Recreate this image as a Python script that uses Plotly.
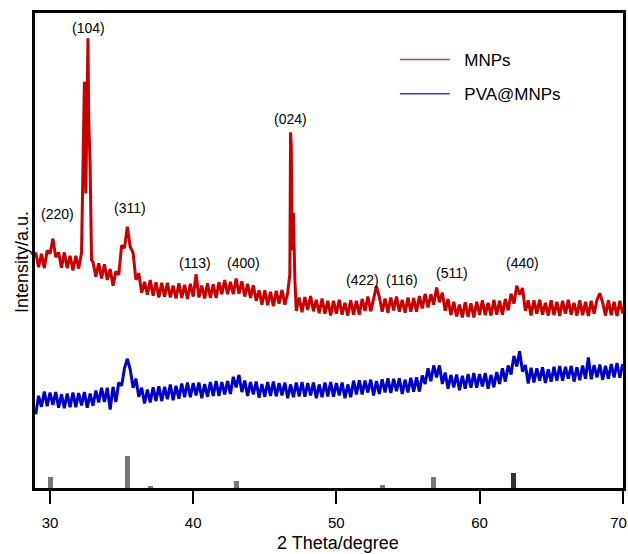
import numpy as np
import plotly.graph_objects as go

# 2-theta grid (degrees) used for both patterns
two_theta = np.round(np.arange(29.0, 70.001, 0.2), 1)

# MNPs intensity (a.u.)
mnps = [
    49.6, 46.5, 49.3, 46.3, 50.0, 49.3, 52.5, 48.6, 49.6, 46.4,
    49.6, 46.3, 48.9, 45.8, 48.9, 46.2, 49.5, 85.5, 90.0, 68.0,
    47.6, 44.5, 47.3, 44.1, 47.1, 43.8, 46.1, 42.6, 45.6, 44.9,
    51.1, 50.5, 55.0, 50.8, 49.5, 43.8, 45.2, 41.1, 43.4, 40.7,
    43.8, 40.5, 43.3, 40.1, 43.2, 40.3, 43.2, 40.1, 42.6, 39.9,
    43.1, 40.0, 42.8, 39.8, 43.0, 40.3, 45.0, 40.1, 42.6, 39.9,
    43.1, 40.0, 42.9, 40.0, 43.3, 40.8, 43.8, 40.8, 43.4, 40.8,
    44.1, 40.9, 43.5, 40.3, 43.0, 40.0, 42.7, 39.4, 41.6, 38.6,
    41.6, 38.5, 41.3, 38.3, 41.5, 38.8, 41.7, 38.6, 41.1, 74.9,
    57.9, 37.3, 40.1, 37.0, 40.2, 37.5, 40.4, 37.2, 39.6, 36.8,
    39.9, 36.7, 39.4, 36.3, 39.4, 36.7, 39.6, 36.5, 39.0, 36.3,
    39.5, 36.5, 39.4, 36.5, 39.8, 37.3, 40.3, 37.2, 39.7, 42.5,
    40.2, 37.1, 39.9, 36.9, 40.1, 37.4, 40.3, 37.1, 39.6, 36.9,
    40.1, 37.1, 40.0, 37.1, 40.4, 37.8, 40.9, 38.0, 40.8, 38.6,
    42.2, 39.1, 41.1, 37.3, 39.8, 36.4, 39.2, 36.1, 38.6, 35.9,
    39.1, 36.0, 38.9, 35.9, 39.2, 36.5, 39.5, 36.4, 39.0, 36.3,
    39.6, 36.5, 39.4, 36.5, 39.8, 37.4, 40.9, 38.8, 42.6, 40.7,
    42.1, 37.3, 39.5, 36.3, 39.5, 36.7, 39.6, 36.5, 39.0, 36.3,
    39.5, 36.4, 39.2, 36.2, 39.4, 36.7, 39.6, 36.5, 39.0, 36.3,
    39.5, 36.4, 39.2, 36.2, 39.4, 36.7, 39.6, 41.0, 39.0, 36.3,
    39.5, 36.4, 39.2, 36.2, 39.4, 36.7,
]
# extra readings across the two sharp reflections of MNPs
mnps_peak_theta = [32.5, 32.65, 32.7, 32.9, 46.75, 46.85, 46.92, 47.1]
mnps_peak_int = [62.0, 94.7, 78.0, 48.0, 45.0, 72.0, 50.0, 44.0]

# PVA@MNPs intensity (a.u.)
pva_mnps = [
    15.5, 19.4, 17.1, 20.3, 17.2, 20.1, 17.5, 20.2, 16.9, 19.7,
    16.8, 19.9, 17.0, 20.1, 17.0, 20.0, 17.4, 20.2, 16.9, 19.9,
    17.3, 20.5, 18.0, 21.1, 18.1, 21.1, 16.5, 21.3, 18.1, 22.2,
    21.5, 25.2, 27.2, 25.0, 21.1, 23.0, 19.2, 21.1, 17.8, 20.7,
    18.0, 21.2, 18.3, 21.4, 18.3, 21.3, 18.7, 21.8, 18.5, 21.5,
    18.8, 22.0, 19.1, 22.2, 19.1, 22.1, 19.5, 22.2, 18.9, 21.9,
    19.2, 22.3, 19.4, 22.5, 19.4, 22.3, 19.7, 22.5, 19.8, 23.4,
    21.2, 23.8, 20.2, 22.6, 19.4, 22.3, 19.7, 22.4, 19.0, 21.9,
    19.2, 22.3, 19.4, 22.4, 19.3, 22.1, 19.5, 22.2, 18.9, 21.8,
    19.1, 22.2, 19.3, 22.3, 19.2, 22.1, 19.5, 22.2, 18.9, 21.8,
    19.1, 22.2, 19.3, 22.3, 19.2, 22.1, 19.5, 22.2, 18.9, 21.8,
    19.1, 22.6, 19.7, 22.7, 19.7, 22.6, 20.1, 22.8, 19.5, 22.5,
    19.8, 22.9, 20.1, 23.1, 20.0, 23.0, 20.4, 23.1, 19.8, 22.8,
    20.1, 23.2, 20.3, 23.3, 20.3, 23.7, 21.9, 25.2, 22.5, 25.8,
    23.3, 25.8, 21.9, 24.3, 20.9, 23.8, 21.2, 23.9, 20.6, 23.6,
    20.9, 24.0, 21.1, 24.2, 21.1, 24.0, 21.4, 24.2, 20.9, 23.8,
    21.2, 24.4, 21.9, 25.2, 22.4, 25.8, 23.9, 27.8, 25.6, 28.8,
    24.5, 25.9, 22.0, 25.3, 22.2, 25.2, 22.6, 25.4, 22.1, 25.0,
    22.4, 25.5, 22.6, 25.7, 22.6, 25.5, 23.0, 25.7, 22.4, 25.4,
    22.7, 25.8, 23.0, 27.5, 22.9, 25.9, 23.3, 26.0, 22.8, 25.7,
    23.0, 26.1, 23.3, 26.3, 23.2, 26.1,
]

# reference (standard card) lines
ref_theta = [30.0, 35.4, 37.0, 43.0, 53.2, 56.8, 62.4]
ref_int = [2.3, 6.7, 0.4, 1.5, 0.6, 2.3, 3.2]

# x tick values and labels
x_ticks = [30, 40, 50, 60, 70]
x_tick_labels = ["30", "40", "50", "60", "70"]

# Miller index labels
hkl_labels = ["(220)", "(104)", "(311)", "(113)", "(400)", "(024)", "(422)", "(116)", "(511)", "(440)"]
hkl_theta = [30.5, 32.7, 35.6, 40.1, 43.5, 46.8, 51.8, 54.6, 58.1, 63.0]
hkl_int = [57.7, 96.8, 58.9, 47.4, 47.4, 77.7, 43.8, 43.8, 45.3, 47.4]

FONT = "Liberation Sans, Arial, sans-serif"
NB = "\u00a0"

# merge red grid with peak readings
rx = list(two_theta) + mnps_peak_theta
ry = list(mnps) + mnps_peak_int
order = np.argsort(rx, kind="stable")
rx = [rx[i] for i in order]
ry = [ry[i] for i in order]

fig = go.Figure()
fig.add_trace(go.Bar(
    x=ref_theta, y=ref_int, width=0.35,
    marker=dict(color=["#777777"] * 6 + ["#333333"], line=dict(width=0)),
    showlegend=False, hoverinfo="skip",
))
fig.add_trace(go.Scatter(x=rx, y=ry, mode="lines",
                         line=dict(color="#C80000", width=3), showlegend=False))
fig.add_trace(go.Scatter(x=list(two_theta), y=pva_mnps, mode="lines",
                         line=dict(color="#0000C8", width=3), showlegend=False))
# legend entries
fig.add_trace(go.Scatter(x=[None], y=[None], mode="lines", name=NB * 2 + "MNPs",
                         line=dict(color="#D03A3A", width=1.5), legendgroup="a"))
fig.add_trace(go.Scatter(x=[None], y=[None], mode="lines", name=NB * 2 + "PVA@MNPs",
                         line=dict(color="#3A3AD0", width=1.5), legendgroup="b"))

for lab, tx, ty in zip(hkl_labels, hkl_theta, hkl_int):
    fig.add_annotation(x=tx, y=ty, text=lab, showarrow=False,
                       font=dict(family=FONT, size=14, color="black"))

# axis titles placed as in the original
fig.add_annotation(xref="paper", yref="paper", x=-0.022, y=0.476, text="Intensity/a.u.",
                   textangle=-90, showarrow=False, xanchor="center", yanchor="middle",
                   font=dict(family=FONT, size=18, color="black"))
fig.add_annotation(xref="paper", yref="paper", x=0.515, y=-0.116, text="2 Theta/degree",
                   showarrow=False, xanchor="center", yanchor="middle",
                   font=dict(family=FONT, size=18, color="black"))

# last label padded so it stays inside the page, as in the original
tick_text = x_tick_labels[:-1] + [x_tick_labels[-1] + NB * 2]

fig.update_layout(
    width=628, height=554,
    margin=dict(l=35, r=5, t=13, b=66),
    paper_bgcolor="white", plot_bgcolor="white",
    font=dict(family=FONT, color="black"),
    bargap=0,
    legend=dict(x=0.612, y=0.939, xanchor="left", yanchor="top",
                traceorder="grouped", tracegroupgap=9, itemwidth=50,
                font=dict(family=FONT, size=17, color="black"),
                bgcolor="rgba(0,0,0,0)"),
    xaxis=dict(range=[28.95, 70.02], tickvals=x_ticks, ticktext=tick_text,
               showline=True, linecolor="black", linewidth=2.5, mirror=True,
               ticks="outside", ticklen=13, tickwidth=2, tickcolor="black",
               ticklabelstandoff=6, ticklabeloverflow="allow",
               showgrid=False, zeroline=False, automargin=False,
               tickfont=dict(family=FONT, size=15)),
    yaxis=dict(range=[0, 100], showticklabels=False, ticks="",
               showline=True, linecolor="black", linewidth=2.5, mirror=True,
               showgrid=False, zeroline=False, automargin=False),
)

fig.write_html("out.html", config={"displayModeBar": False},
               post_script="document.body.style.margin='0px';")
